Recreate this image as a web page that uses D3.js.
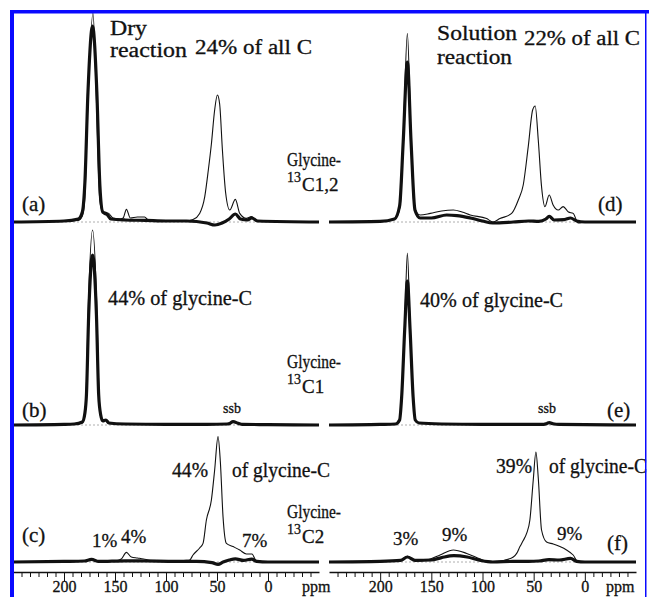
<!DOCTYPE html>
<html>
<head>
<meta charset="utf-8">
<script src="https://cdn.jsdelivr.net/npm/d3@7/dist/d3.min.js"></script>
<style>
  body { margin: 0; background: #fff; }
  text { font-family: "Liberation Serif", "Times New Roman", serif; fill: #111; stroke: #111; stroke-width: 0.3; }
</style>
</head>
<body>
<div id="chart"></div>
<script>
// spectra as [ppm, intensity] pairs
const specA_thin = [[250,0],[200,0.5],[186,0.8],[182,3],[179.7,11],[176.5,61],[171.6,104.5],[168.2,61],[165,11],[161.8,4.5],[159,3.5],[156.9,4.5],[152,2],[145,1.5],[142,2],[138.8,6.3],[135,2],[128,2.5],[121,2.5],[117,0.8],[100,0.5],[80,0.5],[73.5,1.2],[67,4.3],[62,12.7],[58.5,26],[55.5,39],[52.3,56],[49.6,63.5],[47.4,59],[44.7,36],[41.5,14.5],[37.5,6],[32,11.3],[27.7,4.3],[21.2,1.8],[16.3,2.7],[10,0.5],[0,0.3],[-50,0]];
const specA_thick = [[250,0],[200,0.5],[186,1.5],[182,5],[179.5,20],[176.5,65],[172,98],[167.8,65],[164.8,18],[162,5],[158,4],[154,1.5],[140,1],[120,0.8],[100,0.5],[80,0.5],[60,-0.5],[52,-1.5],[45,-0.5],[38,1.5],[32,4],[27,1.5],[20,1],[16,2],[10,0.5],[-50,0]];
const specB_thin = [[250,0],[200,0.3],[190,0.3],[182,1],[179.5,5],[178.5,12],[176,62],[172,97.5],[168,62],[165.5,12],[164,4],[162,1.8],[159,2.5],[156,0.8],[140,0.5],[100,0.3],[60,0.3],[40,0.5],[37.5,0.8],[34.3,1.7],[29,0.8],[25,0.3],[0,0.2],[-50,0]];
const specB_thick = [[250,0],[200,0.3],[190,0.5],[182,1.5],[179.5,6],[178,15],[175.8,55],[172,85],[168.2,55],[166,15],[164,5],[162,2],[159,2.5],[156,1],[140,0.5],[100,0.3],[60,0.3],[40,0.5],[37.5,0.8],[34.3,1.7],[29,0.8],[25,0.3],[0,0.2],[-50,0]];
const specC_thin = [[250,0],[200,0.3],[180,0.5],[173,1.5],[166,0.5],[150,0.5],[143.8,1.5],[138.8,4.8],[134,2.5],[128,2],[122,1.5],[115,0.8],[90,0.5],[80,0.8],[76.8,1],[73.5,3.5],[67,7],[63.7,9.3],[60.4,21],[55.5,31],[52.3,46],[49,62.7],[46.7,50],[44.1,22.7],[40.8,9.3],[34.3,7.7],[27.7,6],[21.2,4],[15.7,4],[11.4,0.5],[0,0.2],[-50,0]];
const specC_thick = [[250,0],[200,0.3],[180,0.5],[173,1.3],[166,0.3],[140,0.6],[120,0.5],[90,0.3],[70,0.3],[55,-0.3],[49,-1.2],[44,0],[38,1],[32,1.6],[24,0.8],[16,1.4],[11,0.3],[0,0],[-50,0]];
const specD_thin = [[250,0],[200,0.3],[185.4,1.7],[180.5,7.7],[177.3,44.4],[173.4,94.3],[170,44.4],[166.8,7.7],[161,3.5],[151,4.3],[140,5.5],[128.5,6],[120,5],[112,3.5],[96,1.7],[89.7,0],[83,1.7],[71.5,4.3],[65,11],[60.2,18.5],[55.3,37.7],[51,56],[48.5,58],[45.5,41],[42.3,17.7],[39,7.7],[34.8,13.5],[31,8.5],[26,6],[21.2,7.7],[16,5],[11.4,4.3],[6.5,-0.5],[0,0],[-50,0]];
const specD_thick = [[250,0],[200,0.3],[186,1.5],[181,8],[177.5,40],[173.4,80],[169.8,40],[166,6],[161,2],[150,2],[135,3.5],[125,3.2],[112,2],[100,0.5],[90,-0.5],[70,0],[55,0.5],[45,0.3],[38,1.5],[34.8,2.8],[30,1],[20,1.2],[14,2],[8,0.5],[0,0],[-50,0]];
const specE_thin = [[250,0],[200,0.3],[185,0.5],[181,2],[179.1,12.5],[175.9,52],[173.4,86],[170.9,52],[167.7,12.5],[165.5,2],[162,1],[140,0.5],[100,0.3],[60,0.3],[40,0.3],[37,0.8],[34.8,1.2],[31,0.6],[25,0.3],[0,0.2],[-50,0]];
const specE_thick = [[250,0],[200,0.3],[185,0.5],[181,2.5],[179,14],[176,48],[173.4,72],[170.8,48],[167.8,14],[165.7,2.5],[162,1],[140,0.5],[100,0.3],[60,0.3],[40,0.3],[37,0.8],[34.8,1.2],[31,0.6],[25,0.3],[0,0.2],[-50,0]];
const specF_thin = [[250,0],[200,0.2],[180.5,0.8],[173.4,2.8],[166,0.8],[160,0.5],[151,1.5],[141.5,3.5],[128.5,6],[115.4,4.3],[102.4,1.5],[96,0.3],[85,0.2],[78,1],[69.9,2.5],[66.6,4.3],[63.4,7.7],[60.2,10.7],[56.9,14.3],[53.7,21],[50.4,41],[47.8,55],[45.5,42],[42.3,16],[37.4,10],[30.9,9],[24.4,7.7],[17.9,6],[11.4,3.5],[6.5,0],[-50,0]];
const specF_thick = [[250,0],[200,0.3],[180,0.8],[173.4,2.5],[166,0.8],[150,1],[140,2.2],[128,3.2],[115,2.5],[102,0.8],[90,0],[70,0.3],[55,0.3],[45,0.5],[35,1.2],[25,1],[14,1.8],[8,0.3],[0,0],[-50,0]];

const tickLabels = [200, 150, 100, 50, 0];
const panelLetters = ['(a)', '(b)', '(c)', '(d)', '(e)', '(f)'];

const W = 649, H = 597;
const svg = d3.select('#chart').append('svg').attr('width', W).attr('height', H);

// two columns, three rows
const xLeft = d3.scaleLinear().domain([250, -50]).range([13, 319]);
const xRight = d3.scaleLinear().domain([250, -50]).range([329, 636]);
const baselines = [222, 425, 562];
const yFor = b => d3.scaleLinear().domain([0, 100]).range([b, b - 200]);

const panels = [
  { x: xLeft, row: 0, thin: specA_thin, thick: specA_thick },
  { x: xLeft, row: 1, thin: specB_thin, thick: specB_thick },
  { x: xLeft, row: 2, thin: specC_thin, thick: specC_thick },
  { x: xRight, row: 0, thin: specD_thin, thick: specD_thick },
  { x: xRight, row: 1, thin: specE_thin, thick: specE_thick },
  { x: xRight, row: 2, thin: specF_thin, thick: specF_thick }
];

panels.forEach(p => {
  const y = yFor(baselines[p.row]);
  const line = d3.line().x(d => p.x(d[0])).y(d => y(d[1])).curve(d3.curveMonotoneX);
  svg.append('line')
    .attr('x1', p.x(250)).attr('x2', p.x(-50))
    .attr('y1', y(0)).attr('y2', y(0))
    .attr('stroke', '#999').attr('stroke-width', 0.8).attr('stroke-dasharray', '2,2');
  svg.append('path').datum(p.thick).attr('d', line)
    .attr('fill', 'none').attr('stroke', '#111').attr('stroke-width', 3.2).attr('stroke-linejoin', 'round');
  svg.append('path').datum(p.thin).attr('d', line)
    .attr('fill', 'none').attr('stroke', '#111').attr('stroke-width', 1.1);
});

// axes
const ticks = d3.range(-5, 30).map(k => 200 - k * 50 / 6);
const isMajor = d => tickLabels.some(t => Math.abs(t - d) < 0.01);
[xLeft, xRight].forEach(x => {
  const g = svg.append('g').attr('transform', 'translate(0,572)')
    .call(d3.axisBottom(x).tickValues(ticks).tickSize(5).tickSizeOuter(0)
      .tickFormat(d => isMajor(d) ? Math.round(d) : ''));
  g.select('.domain').attr('stroke', '#111').attr('stroke-width', 1.3);
  g.selectAll('.tick line').attr('stroke', '#111').attr('y2', d => isMajor(d) ? 9 : 5);
  g.selectAll('.tick text').attr('y', 20).attr('dy', 0)
    .style('font-family', '"Liberation Serif", serif').style('font-size', '16px')
    .attr('fill', '#111');
});

function label(txt, x, y, size, width) {
  const t = svg.append('text').attr('x', x).attr('y', y).style('font-size', size + 'px').text(txt);
  if (width) t.attr('textLength', width).attr('lengthAdjust', 'spacingAndGlyphs');
  return t;
}

label('ppm', 302, 592, 16);
label('ppm', 606, 592, 16);

// titles
label('Dry', 110, 35, 20, 37);
label('reaction', 110, 57, 20, 77);
label('24% of all C', 195, 54, 20, 117);
label('Solution', 437, 40, 21, 80);
label('reaction', 437, 64, 21, 75);
label('22% of all C', 524, 45, 20, 116);

// glycine labels in the middle
const isoLabels = ['C1,2', 'C1', 'C2'];
[166, 368, 518].forEach((top, i) => {
  label('Glycine-', 287, top, 19, 54);
  label('13', 287, top + 16, 14);
  label(isoLabels[i], 302, top + 25, 19);
});

// panel letters
[[22, 211], [22, 417], [22, 542], [598, 211], [607, 417], [607, 550]].forEach((pos, i) => {
  label(panelLetters[i], pos[0], pos[1], 21);
});

// percent annotations
label('44% of glycine-C', 108, 305, 20, 144);
label('40% of glycine-C', 420, 307, 20, 143);
label('ssb', 223, 413, 14);
label('ssb', 538, 413, 14);
label('44%', 172, 477, 20, 36);
label('of glycine-C', 232, 477, 20, 98);
label('1%', 92, 547, 19);
label('4%', 121, 543, 19);
label('7%', 242, 547, 19);
label('39%', 496, 473, 20, 36);
label('of glycine-C', 549, 473, 20, 98);
label('3%', 393, 545, 19);
label('9%', 442, 541, 19);
label('9%', 557, 540, 19);

// blue frame
svg.append('rect').attr('x', 10).attr('y', 10).attr('width', 4).attr('height', H).attr('fill', '#0a0aff');
svg.append('rect').attr('x', 10).attr('y', 10).attr('width', W - 10).attr('height', 3.5).attr('fill', '#0a0aff');
svg.append('rect').attr('x', 645).attr('y', 10).attr('width', 1.5).attr('height', H).attr('fill', '#0a0aff');
</script>
</body>
</html>
